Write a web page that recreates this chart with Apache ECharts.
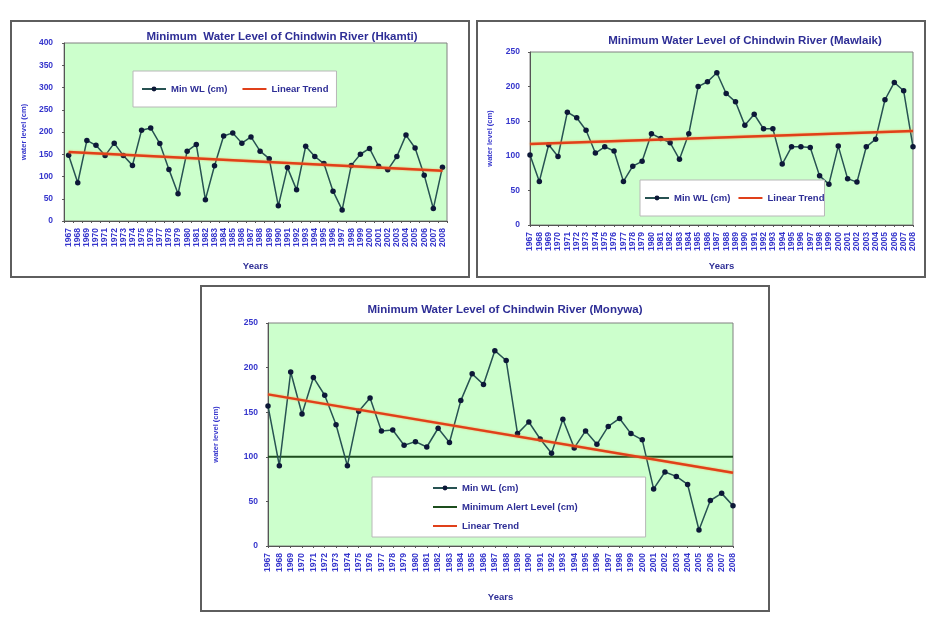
<!DOCTYPE html>
<html>
<head>
<meta charset="utf-8">
<script src="https://cdn.jsdelivr.net/npm/echarts@6/dist/echarts.min.js"></script>
<style>
  body { margin: 0; background: #fff; width: 935px; height: 632px; position: relative; overflow: hidden; }
  .box { position: absolute; border: 2px solid #5e5e5e; background: #fff; }
  .box div.chart { width: 100%; height: 100%; }
</style>
</head>
<body>
<div class="box" style="left:10px;top:20px;width:456px;height:254px"><div class="chart" id="hkamti"></div></div>
<div class="box" style="left:476px;top:20px;width:446px;height:254px"><div class="chart" id="mawlaik"></div></div>
<div class="box" style="left:200px;top:285px;width:566px;height:323px"><div class="chart" id="monywa"></div></div>
<script>
// years on the x axis (42 per station)
var years = [];
for (var y = 1967; y <= 2008; y++) years.push(String(y));

// minimum water level, cm
var hkamtiWL = [148, 86, 181, 170, 147, 175, 147, 125, 204, 209, 174, 116, 61, 157, 172, 48, 124, 191, 198, 175, 189,
                157, 140, 34, 120, 70, 168, 145, 129, 67, 25, 125, 150, 163, 123, 115, 145, 193, 164, 103, 28, 121];
var mawlaikWL = [101, 63, 116, 99, 163, 155, 137, 104, 113, 107, 63, 85, 92, 132, 125, 119, 95, 132, 200, 207, 220,
                 190, 178, 144, 160, 139, 139, 88, 113, 113, 112, 71, 59, 114, 67, 62, 113, 124, 181, 206, 194, 113];
var monywaWL = [157, 90, 195, 148, 189, 169, 136, 90, 151, 166, 129, 130, 113, 117, 111, 132, 116, 163, 193, 181, 219,
                208, 126, 139, 120, 104, 142, 110, 129, 114, 134, 143, 126, 119, 64, 83, 78, 69, 18, 51, 59, 45];

// linear trend, value at first and last year
var hkamtiTrend = [155, 113];
var mawlaikTrend = [117, 136];
var monywaTrend = [170, 82];
var alertLevel = 100;

var FONT = "'Liberation Sans', Arial, sans-serif";
var BLUE = '#3535cc';
var NAVY = '#2e2e96';

function ends(pair) {
    return [[years[0], pair[0]], [years[years.length - 1], pair[1]]];
}

function makeOption(c) {
    var series = [{
        name: 'Min WL (cm)', type: 'line', data: c.wl,
        symbol: 'circle', symbolSize: 5.5,
        lineStyle: { color: '#275252', width: 1.5 },
        itemStyle: { color: '#0d1838' },
        z: 3
    }];
    if (c.alert) {
        series.push({
            name: 'Minimum Alert Level (cm)', type: 'line', data: ends([alertLevel, alertLevel]),
            symbol: 'none', lineStyle: { color: '#1d4d1d', width: 2 }, itemStyle: { color: '#1d4d1d' }, z: 2
        });
    }
    series.push({
        name: 'Linear Trend', type: 'line', data: ends(c.trend),
        symbol: 'none', lineStyle: { color: '#e0401a', width: 2.5, shadowColor: 'rgba(255,150,60,0.8)', shadowBlur: 2 },
        itemStyle: { color: '#e0401a' }, z: 4
    });
    // plain line in the legend for trend / alert, line + dot for the data
    var legendData = series.map(function (s, i) {
        return i === 0 ? { name: s.name } : { name: s.name, itemStyle: { opacity: 0 } };
    });
    return {
        animation: false,
        textStyle: { fontFamily: FONT },
        title: {
            text: c.title, left: c.titleX, top: c.titleY, textAlign: 'center',
            textStyle: { fontSize: 11.5, fontWeight: 'bold', color: NAVY, fontFamily: FONT }
        },
        legend: Object.assign({
            z: 10,
            backgroundColor: '#fff', borderColor: '#b8b8b8', borderWidth: 1,
            itemWidth: 24, itemHeight: 6,
            textStyle: { fontSize: 9.5, fontWeight: 'bold', color: NAVY, fontFamily: FONT },
            data: legendData
        }, c.legend),
        grid: Object.assign({ show: true, backgroundColor: '#ccffcc', borderColor: '#808080', borderWidth: 1 }, c.grid),
        xAxis: {
            type: 'category', data: years, boundaryGap: c.gap,
            name: 'Years', nameLocation: 'middle', nameGap: c.xNameGap,
            nameTextStyle: { fontSize: 9.5, fontWeight: 'bold', color: NAVY },
            axisLine: { lineStyle: { color: '#555' } },
            axisTick: { show: true, length: 2, lineStyle: { color: '#555' } },
            axisLabel: { interval: 0, rotate: 90, fontSize: 8.5, fontWeight: 'bold', color: BLUE, margin: 7 }
        },
        yAxis: {
            type: 'value', min: 0, max: c.yMax, interval: 50,
            name: 'water level (cm)', nameLocation: 'middle', nameGap: c.yNameGap,
            nameTextStyle: { fontSize: 7.5, fontWeight: 'bold', color: BLUE },
            axisLine: { show: true, lineStyle: { color: '#555' } },
            axisTick: { show: true, length: 2, lineStyle: { color: '#555' } },
            splitLine: { show: false },
            axisLabel: { fontSize: 8.5, fontWeight: 'bold', color: BLUE, margin: c.yLabelMargin }
        },
        series: series
    };
}

echarts.init(document.getElementById('hkamti')).setOption(makeOption({
    title: 'Minimum  Water Level of Chindwin River (Hkamti)', titleX: 265, titleY: 4,
    wl: hkamtiWL, trend: hkamtiTrend, yMax: 400, gap: true,
    grid: { left: 50, right: 21, top: 21, bottom: 55 },
    legend: { left: 121, top: 49, orient: 'horizontal', itemGap: 14, padding: [13, 8, 13, 8] },
    xNameGap: 40, yNameGap: 36, yLabelMargin: 11
}));

echarts.init(document.getElementById('mawlaik')).setOption(makeOption({
    title: 'Minimum Water Level of Chindwin River (Mawlaik)', titleX: 262, titleY: 8,
    wl: mawlaikWL, trend: mawlaikTrend, yMax: 250, gap: false,
    grid: { left: 52, right: 11, top: 30, bottom: 49 },
    legend: { left: 162, top: 158, orient: 'horizontal', itemGap: 7, padding: [13, 0, 13, 4] },
    xNameGap: 36, yNameGap: 36, yLabelMargin: 10
}));

echarts.init(document.getElementById('monywa')).setOption(makeOption({
    title: 'Minimum Water Level of Chindwin River (Monywa)', titleX: 298, titleY: 12,
    wl: monywaWL, trend: monywaTrend, alert: true, yMax: 250, gap: false,
    grid: { left: 66, right: 35, top: 36, bottom: 64 },
    legend: { left: 170, top: 190, orient: 'vertical', itemGap: 9, padding: [6, 68, 6, 60] },
    xNameGap: 46, yNameGap: 48, yLabelMargin: 10
}));
</script>
</body>
</html>
